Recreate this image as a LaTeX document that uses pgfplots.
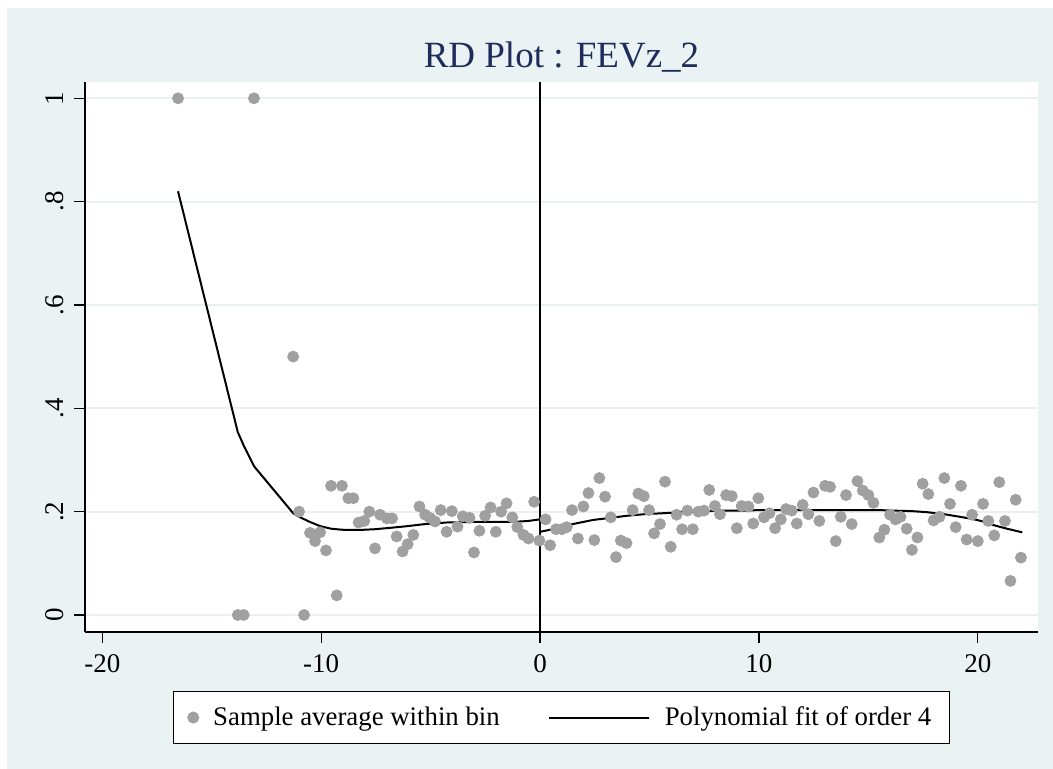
\documentclass[border=0pt]{standalone}
\usepackage{pgfplots}
\pgfplotsset{compat=1.18}
\usepackage{fontspec}
\setmainfont{Liberation Serif}
\definecolor{statabg}{RGB}{234,242,243}
\definecolor{gridc}{RGB}{232,240,242}
\definecolor{markc}{RGB}{160,160,160}
\definecolor{titlec}{RGB}{30,45,92}

\pgfplotsset{
  dotlegend/.style={legend image code/.code={\draw[##1] plot coordinates {(0pt,0pt)}; \path (7.75pt,0pt);}},
  linelegend/.style={legend image code/.code={\draw[##1] (0pt,0pt) -- (50pt,0pt); \path (55.5pt,0pt);}},
}

\pgfplotstableread{
x y
-16.54 1.000
-13.81 0.000
-13.54 0.000
-13.07 1.000
-11.28 0.500
-11.01 0.200
-10.78 0.000
-10.51 0.159
-10.28 0.143
-10.05 0.160
-9.78 0.125
-9.55 0.250
-9.29 0.038
-9.05 0.250
-8.76 0.226
-8.53 0.226
-8.29 0.179
-8.03 0.182
-7.80 0.200
-7.54 0.129
-7.31 0.194
-7.00 0.187
-6.76 0.187
-6.55 0.152
-6.28 0.123
-6.05 0.137
-5.79 0.155
-5.51 0.210
-5.25 0.194
-5.03 0.188
-4.80 0.181
-4.54 0.203
-4.27 0.161
-4.03 0.201
-3.77 0.171
-3.53 0.191
-3.22 0.188
-3.02 0.121
-2.77 0.163
-2.51 0.192
-2.26 0.208
-2.02 0.161
-1.78 0.200
-1.53 0.216
-1.27 0.189
-1.04 0.170
-0.76 0.155
-0.53 0.148
-0.27 0.219
-0.03 0.144
0.25 0.185
0.46 0.135
0.73 0.166
0.99 0.166
1.22 0.170
1.46 0.203
1.73 0.148
1.98 0.210
2.21 0.236
2.48 0.145
2.71 0.265
2.97 0.229
3.23 0.189
3.47 0.112
3.69 0.144
3.95 0.139
4.23 0.203
4.49 0.235
4.74 0.230
4.98 0.203
5.21 0.158
5.48 0.176
5.71 0.258
5.97 0.132
6.24 0.194
6.49 0.166
6.73 0.202
6.98 0.166
7.23 0.200
7.49 0.202
7.73 0.242
7.99 0.211
8.22 0.195
8.50 0.232
8.76 0.230
8.99 0.168
9.21 0.211
9.52 0.210
9.74 0.177
9.97 0.226
10.23 0.189
10.48 0.197
10.74 0.168
11.00 0.185
11.24 0.205
11.50 0.202
11.73 0.177
12.00 0.213
12.26 0.195
12.49 0.237
12.76 0.182
13.02 0.250
13.25 0.248
13.51 0.143
13.74 0.190
13.98 0.232
14.24 0.176
14.50 0.259
14.74 0.241
15.00 0.232
15.23 0.217
15.50 0.150
15.73 0.165
15.99 0.194
16.24 0.185
16.47 0.190
16.75 0.167
16.99 0.126
17.24 0.150
17.48 0.254
17.74 0.234
17.98 0.183
18.25 0.190
18.47 0.265
18.73 0.215
18.99 0.170
19.23 0.250
19.49 0.146
19.74 0.194
20.00 0.143
20.24 0.215
20.48 0.182
20.75 0.154
20.98 0.257
21.24 0.182
21.49 0.066
21.73 0.223
21.97 0.111
}\bins

\pgfplotstableread{
x y
-16.54 0.820
-13.81 0.354
-13.54 0.328
-13.07 0.288
-11.28 0.197
-11.01 0.190
-10.51 0.180
-10.05 0.172
-9.55 0.167
-9.05 0.165
-8.29 0.1645
-7.54 0.166
-6.76 0.169
-6.05 0.172
-5.25 0.176
-4.27 0.179
-3.22 0.180
-2.26 0.180
-1.27 0.180
-0.53 0.182
-0.03 0.185
}\fitleft

\pgfplotstableread{
x y
0.00 0.161
0.46 0.165
1.06 0.172
1.73 0.178
2.43 0.184
3.23 0.188
3.96 0.192
4.74 0.195
5.63 0.197
6.49 0.199
7.16 0.200
8.22 0.202
9.21 0.202
10.05 0.203
11.50 0.203
13.10 0.203
14.50 0.203
15.50 0.203
16.14 0.202
16.99 0.201
17.67 0.199
18.47 0.195
19.19 0.190
19.74 0.186
20.24 0.181
20.71 0.174
21.24 0.168
21.73 0.163
22.03 0.160
}\fitright

\begin{document}
\begin{tikzpicture}
\fill[white] (-42.5pt,-68.5pt) rectangle (484pt,316pt);
\fill[statabg] (-39pt,-68.5pt) rectangle (484pt,312pt);
\begin{axis}[
  at={(0pt,0pt)}, anchor=south west,
  scale only axis, width=476.5pt, height=275pt,
  xmin=-20.79, xmax=22.75, ymin=-0.0329, ymax=1.0315,
  axis background/.style={fill=white},
  axis x line*=bottom, axis y line*=left,
  axis line style={black, line width=0.6pt, -},
  tick align=outside, major tick length=5.5pt,
  tick style={black, line width=0.6pt},
  xtick={-20,-10,0,10,20}, xticklabels={-20,-10,0,10,20},
  ytick={0,0.2,0.4,0.6,0.8,1}, yticklabels={0,.2,.4,.6,.8,1},
  ticklabel style={font=\fontsize{13.5}{16}\selectfont},
  xticklabel shift=2pt, yticklabel shift=1.5pt,
  yticklabel style={rotate=90, anchor=south},
  ymajorgrids, grid style={gridc, line width=1pt},
  title={RD Plot : FEVz\_2},
  every axis title/.style={at={(0.5,1.026)}, anchor=base, font=\fontsize{18.5}{22}\selectfont, text=titlec},
  legend columns=2,
  legend style={at={(0.5,-0.1555)}, anchor=center, draw=black, line width=0.5pt, fill=white,
    font=\fontsize{13.4}{16}\selectfont, inner xsep=7pt, inner ysep=5.5pt,
    /tikz/every even column/.append style={column sep=22pt}},
]
\addplot[only marks, mark=*, mark size=2.75pt, color=markc, mark options={draw=markc, fill=markc},
  dotlegend] table {\bins};
\addlegendentry{Sample average within bin}
\addplot[black, line width=1pt, no marks, linelegend] table {\fitleft};
\addlegendentry{Polynomial fit of order 4\hspace{5pt}}
\addplot[black, line width=1pt, no marks, forget plot] table {\fitright};
\addplot[black, line width=0.7pt, no marks, forget plot] coordinates {(0,-0.0329) (0,1.0315)};
\end{axis}
\end{tikzpicture}
\end{document}
